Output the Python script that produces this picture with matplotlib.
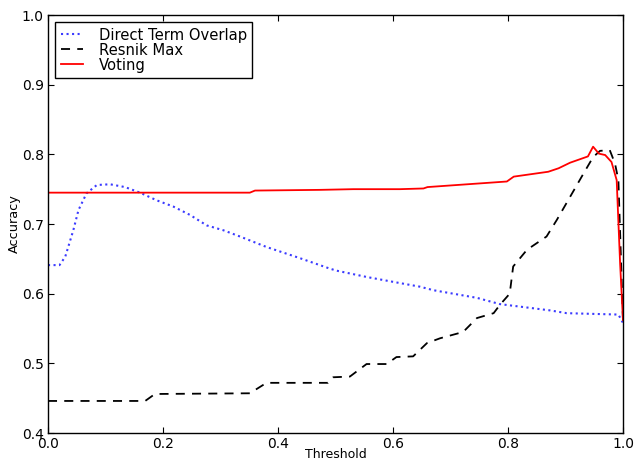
import matplotlib
matplotlib.use("Agg")
import matplotlib.pyplot as plt

# Direct Term Overlap
dto_x = [0, 0.02, 0.03, 0.044, 0.053, 0.067, 0.085, 0.108, 0.134, 0.16, 0.189, 0.218,
         0.247, 0.276, 0.305, 0.334, 0.38, 0.438, 0.49, 0.502, 0.554, 0.60, 0.647, 0.67,
         0.746, 0.786, 0.873, 0.902, 0.992, 1.0]
dto_y = [0.641, 0.641, 0.653, 0.691, 0.72, 0.744, 0.756, 0.757, 0.753, 0.745, 0.734, 0.725,
         0.713, 0.698, 0.691, 0.682, 0.667, 0.651, 0.636, 0.633, 0.624, 0.617, 0.610, 0.605,
         0.594, 0.585, 0.576, 0.572, 0.570, 0.558]

# Resnik Max
res_x = [0, 0.169, 0.186, 0.351, 0.38, 0.487, 0.496, 0.525, 0.554, 0.589, 0.606, 0.635,
         0.659, 0.682, 0.722, 0.746, 0.775, 0.786, 0.803, 0.809, 0.833, 0.867, 0.885, 0.908,
         0.931, 0.948, 0.96, 0.977, 0.986, 0.992, 1.0]
res_y = [0.446, 0.446, 0.456, 0.457, 0.472, 0.472, 0.480, 0.481, 0.499, 0.499, 0.509, 0.510,
         0.529, 0.536, 0.545, 0.565, 0.572, 0.584, 0.60, 0.639, 0.663, 0.682, 0.706, 0.739,
         0.772, 0.796, 0.805, 0.806, 0.787, 0.763, 0.56]

# Voting
vot_x = [0, 0.351, 0.36, 0.473, 0.531, 0.612, 0.653, 0.66, 0.798, 0.81, 0.87, 0.888, 0.908,
         0.939, 0.948, 0.958, 0.969, 0.98, 0.989, 0.995, 1.0]
vot_y = [0.745, 0.745, 0.748, 0.749, 0.750, 0.750, 0.751, 0.753, 0.761, 0.768, 0.775, 0.780,
         0.788, 0.797, 0.811, 0.801, 0.799, 0.789, 0.763, 0.643, 0.562]

x_ticks = [0.0, 0.2, 0.4, 0.6, 0.8, 1.0]
y_ticks = [0.4, 0.5, 0.6, 0.7, 0.8, 0.9, 1.0]

fig = plt.figure(figsize=(6.34, 4.61), dpi=100)
ax = fig.add_axes([48/634, 1 - 433/461, 575/634, 418/461])

ax.plot(dto_x, dto_y, linestyle=':', color='#3b3bff', lw=1.5, label='Direct Term Overlap')
ax.plot(res_x, res_y, linestyle='--', color='black', lw=1.3, dashes=(5, 4), label='Resnik Max')
ax.plot(vot_x, vot_y, linestyle='-', color='red', lw=1.3, label='Voting')

ax.set_xlim(0, 1)
ax.set_ylim(0.4, 1.0)
ax.set_xticks(x_ticks)
ax.set_yticks(y_ticks)
ax.set_xticklabels([f"{t:.1f}" for t in x_ticks])
ax.set_yticklabels([f"{t:.1f}" for t in y_ticks])
ax.tick_params(direction='in', top=True, right=True, length=4, width=0.8, labelsize=10, pad=3)
for s in ax.spines.values():
    s.set_linewidth(1.0)

ax.set_xlabel('Threshold', fontsize=9, labelpad=-2.5)
ax.set_ylabel('Accuracy', fontsize=9.3, labelpad=1)

leg = ax.legend(loc='upper left', fontsize=10.6, fancybox=False, framealpha=1,
                edgecolor='black', handlelength=1.5, handletextpad=1.1,
                labelspacing=0.0, borderaxespad=0.5, borderpad=0.35)
leg.get_frame().set_linewidth(1.0)

fig.savefig('out.png', dpi=100)
